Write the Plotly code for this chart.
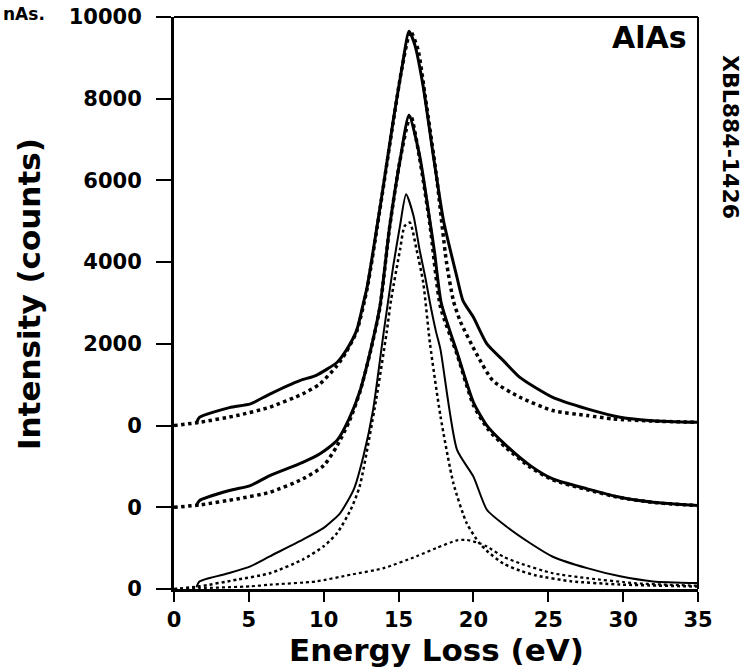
import plotly.graph_objects as go

# ---------------- data ----------------
# energy loss (eV) / intensity (counts) relative to each spectrum's own zero
top_solid_x = [1.5, 1.7, 3.7, 5.1, 6.4, 8.4, 9.5, 10.9, 11.5, 12.2, 12.65, 12.9, 13.8, 14.65, 15.2, 15.7,
               16.1, 16.65, 17.3, 18.0, 18.9, 19.3, 20.0, 20.9, 22.0, 23.1, 25.3, 27.6, 29.8, 32.0, 35.0]
top_solid_y = [60, 200, 440, 530, 770, 1100, 1230, 1550, 1840, 2330, 3000, 3390, 5430, 7480, 8700, 9650,
               9300, 8290, 6660, 5020, 3630, 3060, 2650, 2000, 1590, 1180, 690, 410, 205, 120, 80]

top_dot_x = [0, 1.7, 4.2, 6.4, 8.6, 9.75, 10.9, 11.5, 12.2, 12.9, 13.8, 14.65, 15.2, 15.8,
             16.3, 16.8, 17.5, 18.2, 18.66, 19.1, 20.2, 21.3, 23.1, 25.3, 27.6, 29.3, 32.0, 35.0]
top_dot_y = [0, 80, 245, 450, 776, 1020, 1470, 1800, 2300, 3350, 5400, 7450, 8700, 9650,
             9200, 8000, 6200, 4000, 3060, 2570, 1760, 1100, 694, 368, 245, 164, 110, 80]

mid_solid_x = [1.5, 1.7, 3.7, 5.1, 6.4, 8.6, 9.75, 10.9, 11.7, 12.4, 13.1, 13.76, 14.4, 15.1, 15.7,
               16.4, 17.1, 17.4, 17.85, 18.9, 20.0, 20.9, 22.2, 23.8, 25.3, 27.6, 29.8, 32.0, 35.0]
mid_solid_y = [40, 164, 410, 530, 776, 1100, 1310, 1640, 2170, 2820, 3800, 4930, 6860, 8500, 9600,
               8620, 6990, 6250, 5000, 3800, 2570, 2000, 1510, 1020, 694, 450, 245, 123, 42]

mid_dot_x = [0, 1.7, 4.2, 6.4, 8.6, 10.0, 10.9, 11.7, 12.4, 13.1, 13.76, 14.4, 15.1, 15.8,
             16.4, 17.1, 17.8, 18.9, 20.0, 21.0, 22.2, 23.8, 25.3, 27.6, 29.8, 32.0, 35.0]
mid_dot_y = [0, 57, 204, 368, 694, 1020, 1510, 2100, 2800, 3780, 4900, 6850, 8500, 9600,
             8550, 6900, 4900, 3750, 2500, 1900, 1450, 980, 670, 430, 235, 120, 40]

bot_solid_x = [1.5, 1.7, 3.7, 5.1, 6.4, 8.6, 10.0, 11.1, 12.0, 12.65, 13.3, 14.0, 14.65, 15.1, 15.5,
               16.0, 16.4, 16.8, 17.1, 17.5, 17.8, 18.9, 20.0, 20.9, 22.2, 23.8, 25.3, 27.6, 29.8, 32.0, 35.0]
bot_solid_y = [40, 186, 392, 555, 800, 1208, 1495, 1860, 2430, 3250, 4390, 6270, 7920, 8900, 9660,
               9130, 8310, 7600, 7000, 6300, 5860, 3410, 2750, 1940, 1530, 1120, 790, 510, 310, 186, 147]

bot_dot_x = [0, 1.7, 4.2, 6.4, 8.6, 10.0, 10.9, 11.8, 12.4, 13.5, 14.2, 14.5, 15.1, 15.4, 15.75,
             16.2, 16.65, 17.1, 17.8, 18.66, 19.55, 20.4, 21.0, 22.0, 23.1, 24.2, 26.5, 29.8, 35.0]
bot_dot_y = [0, 65, 228, 385, 720, 1045, 1370, 1940, 2510, 4630, 6270, 7080, 8310, 8880, 8970,
             8310, 7490, 6000, 4230, 2590, 1610, 1120, 900, 620, 450, 330, 190, 110, 60]

bump_x = [0, 1.7, 5.1, 6.4, 9.5, 11.8, 14.0, 16.2, 17.5, 18.9, 19.55, 20.4, 20.9, 22.0, 23.1,
          25.3, 27.6, 30.9, 35.0]
bump_y = [0, 20, 65, 105, 186, 350, 510, 800, 1000, 1190, 1200, 1120, 1040, 790, 630,
          385, 265, 140, 80]

offsets = [0, -2000, -4000]           # vertical stacking of the three spectra

x_ticks = [0, 5, 10, 15, 20, 25, 30, 35]
y_ticks = [-4000, -2000, 0, 2000, 4000, 6000, 8000, 10000]
y_tick_text = ["0", "0", "0", "2000", "4000", "6000", "8000", "10000"]

# ---------------- figure ----------------
FONT = "DejaVu Sans"
W, H = 753, 671
# plot box in page pixels: left 174, right 698, top 17, bottom 589
L, T = 174, 17
R, B = W - 698, H - 589
PW, PH = W - L - R, H - T - B


def px_x(p):   # page pixel -> paper x
    return (p - L) / PW


def px_y(p):   # page pixel -> paper y
    return (H - B - p) / PH


fig = go.Figure()


def add(xs, ys, off, width, dash):
    fig.add_trace(go.Scatter(
        x=xs, y=[v + off for v in ys], mode="lines",
        line=dict(color="black", width=width, dash=dash, shape="spline", smoothing=0.6),
        showlegend=False, hoverinfo="skip"))


add(top_dot_x, top_dot_y, offsets[0], 3.5, "dot")
add(top_solid_x, top_solid_y, offsets[0], 3, "solid")
add(mid_dot_x, mid_dot_y, offsets[1], 3.5, "dot")
add(mid_solid_x, mid_solid_y, offsets[1], 3, "solid")
add(bot_dot_x, bot_dot_y, offsets[2], 2.5, "dot")
add(bump_x, bump_y, offsets[2], 2.2, "dot")
add(bot_solid_x, bot_solid_y, offsets[2], 2, "solid")

fig.update_layout(
    width=W, height=H,
    margin=dict(l=L, r=R, t=T, b=B),
    paper_bgcolor="white", plot_bgcolor="white",
    font=dict(family=FONT, color="black", size=18, weight="bold"),
    xaxis=dict(
        range=[0, 35], tickvals=x_ticks, ticks="outside", ticklen=10, tickwidth=2,
        tickcolor="black", showline=True, linewidth=3, linecolor="black",
        showgrid=False, zeroline=False, automargin=False, ticklabelstandoff=0,
        ticklabeloverflow="allow",
        tickfont=dict(family=FONT, size=21, weight="bold"),
    ),
    yaxis=dict(
        range=[-4000, 10000], tickvals=y_ticks, ticktext=y_tick_text,
        ticks="outside", ticklen=15, tickwidth=2, tickcolor="black",
        showline=True, linewidth=3, linecolor="black",
        showgrid=False, zeroline=False, automargin=False, ticklabelstandoff=10,
        ticklabeloverflow="allow",
        tickfont=dict(family=FONT, size=21, weight="bold"),
    ),
    shapes=[
        dict(type="line", xref="paper", yref="paper", x0=0, x1=1, y0=1, y1=1,
             line=dict(color="black", width=2)),
        dict(type="line", xref="paper", yref="paper", x0=1, x1=1, y0=0, y1=1,
             line=dict(color="black", width=2)),
    ],
    annotations=[
        dict(text="Energy Loss (eV)", xref="paper", yref="paper",
             x=px_x(436), y=px_y(650), xanchor="center", yanchor="middle",
             showarrow=False, font=dict(family=FONT, size=31, weight="bold")),
        dict(text="Intensity (counts)", xref="paper", yref="paper",
             x=px_x(29), y=px_y(294), xanchor="center", yanchor="middle",
             textangle=-90, showarrow=False,
             font=dict(family=FONT, size=31, weight="bold")),
        dict(text="AlAs", xref="paper", yref="paper", x=px_x(689), y=px_y(37),
             xanchor="right", yanchor="middle", showarrow=False,
             font=dict(family=FONT, size=30, weight="bold")),
        dict(text="XBL884-1426", xref="paper", yref="paper", x=px_x(731), y=px_y(137),
             xanchor="center", yanchor="middle", textangle=90, showarrow=False,
             font=dict(family=FONT, size=22, weight="bold")),
        dict(text="nAs.", xref="paper", yref="paper", x=px_x(1), y=px_y(14),
             xanchor="left", yanchor="middle", showarrow=False,
             font=dict(family=FONT, size=17, weight="bold")),
    ],
)

# remove the default 8px body margin so the figure sits at the page's top-left corner
fig.write_html("out.html",
               config={"displayModeBar": False},
               post_script="document.body.style.margin='0';")
